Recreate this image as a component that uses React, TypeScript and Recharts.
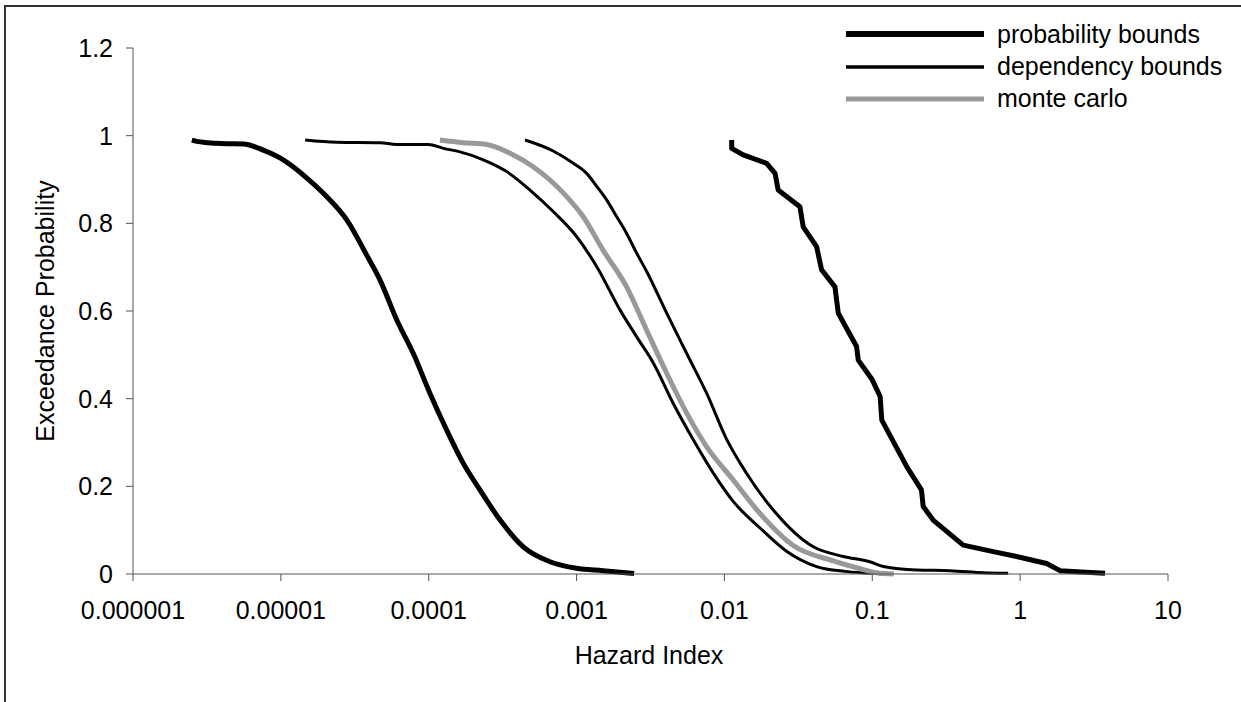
import React from "react";
import { LineChart, Line, XAxis, YAxis, Legend } from "recharts";

// hazard index (x) vs exceedance probability (y)
const probLeft: [number, number][] = [
  [2.5e-6, 0.99], [2.7e-6, 0.987], [3.2e-6, 0.984], [4.0e-6, 0.982], [5.6e-6, 0.981],
  [7.6e-6, 0.967], [1.0e-5, 0.948], [1.21e-5, 0.929], [1.5e-5, 0.903], [2.04e-5, 0.861],
  [2.79e-5, 0.808], [3.8e-5, 0.728], [4.68e-5, 0.671], [6.07e-5, 0.58], [7.87e-5, 0.503],
  [1.02e-4, 0.412], [1.32e-4, 0.329], [1.71e-4, 0.253], [2.22e-4, 0.192], [3.04e-4, 0.123],
  [4.36e-4, 0.062], [6.61e-4, 0.028], [1.0e-3, 0.013], [1.51e-3, 0.0076], [2.45e-3, 0.001],
];

const depLeft: [number, number][] = [
  [1.46e-5, 0.99], [2.39e-5, 0.985], [4.68e-5, 0.984], [6.07e-5, 0.98], [9.94e-5, 0.98],
  [1.26e-4, 0.971], [1.63e-4, 0.963], [2.34e-4, 0.945], [3.37e-4, 0.918], [4.84e-4, 0.876],
  [6.95e-4, 0.827], [1.0e-3, 0.77], [1.37e-3, 0.701], [1.97e-3, 0.602], [2.55e-3, 0.541],
  [3.31e-3, 0.481], [4.51e-3, 0.389], [6.16e-3, 0.306], [8.41e-3, 0.23], [1.15e-2, 0.165],
  [1.74e-2, 0.105], [2.63e-2, 0.052], [4.2e-2, 0.017], [6.5e-2, 0.006], [9.5e-2, 0.002],
  [0.12, 0],
];

const monteCarlo: [number, number][] = [
  [1.19e-4, 0.99], [1.71e-4, 0.984], [2.47e-4, 0.98], [3.55e-4, 0.96], [5.09e-4, 0.929],
  [8.3e-4, 0.866], [1.11e-3, 0.815], [1.51e-3, 0.739], [2.18e-3, 0.655], [2.98e-3, 0.556],
  [4.07e-3, 0.458], [5.56e-3, 0.367], [7.59e-3, 0.29], [1.15e-2, 0.214], [1.74e-2, 0.138],
  [2.92e-2, 0.065], [5.44e-2, 0.03], [8.3e-2, 0.012], [0.107, 0.003], [0.14, 0],
];

const depRight: [number, number][] = [
  [4.48e-4, 0.99], [6.95e-4, 0.965], [9.5e-4, 0.937], [1.17e-3, 0.914], [1.37e-3, 0.884],
  [1.6e-3, 0.853], [1.87e-3, 0.815], [2.18e-3, 0.777], [2.55e-3, 0.732], [2.98e-3, 0.69],
  [4.07e-3, 0.595], [5.56e-3, 0.503], [7.59e-3, 0.412], [1.04e-2, 0.306], [1.41e-2, 0.23],
  [2.14e-2, 0.146], [3.99e-2, 0.062], [6.37e-2, 0.04], [9.6e-2, 0.028], [0.119, 0.017],
  [0.2, 0.009], [0.336, 0.0076], [0.563, 0.003], [0.83, 0.0015],
];

const probRight: [number, number][] = [
  [1.12e-2, 0.99], [1.12e-2, 0.971], [1.34e-2, 0.956], [1.93e-2, 0.937], [2.2e-2, 0.914],
  [2.31e-2, 0.876], [3.24e-2, 0.838], [3.41e-2, 0.792], [4.2e-2, 0.747], [4.54e-2, 0.694],
  [5.59e-2, 0.655], [5.89e-2, 0.595], [7.83e-2, 0.519], [8.04e-2, 0.488], [0.1, 0.443],
  [0.113, 0.405], [0.116, 0.351], [0.171, 0.245], [0.215, 0.192], [0.221, 0.154],
  [0.258, 0.123], [0.412, 0.066], [0.658, 0.051], [0.946, 0.04], [1.51, 0.024],
  [1.86, 0.0076], [2.41, 0.005], [3.75, 0.0015],
];

const xTicks = [0.000001, 0.00001, 0.0001, 0.001, 0.01, 0.1, 1, 10];
const yTicks = [0, 0.2, 0.4, 0.6, 0.8, 1, 1.2];

const legendItems = [
  { name: "probability bounds", color: "#000", width: 6 },
  { name: "dependency bounds", color: "#000", width: 3.5 },
  { name: "monte carlo", color: "#999", width: 5 },
];

const toPoints = (arr: [number, number][]) => arr.map(([x, y]) => ({ x, y }));

const FONT = '"Liberation Sans", Arial, sans-serif';
const TICK_FONT = 25;

function XTick(props: any) {
  const { x, y, payload } = props;
  return (
    <text x={x} y={y} dy="0.71em" textAnchor="middle" style={{ fontSize: TICK_FONT }} fill="#000">
      {String(payload.value)}
    </text>
  );
}

function YTick(props: any) {
  const { x, y, payload } = props;
  return (
    <text x={x} y={y} dy="0.36em" textAnchor="end" style={{ fontSize: TICK_FONT }} fill="#000">
      {String(payload.value)}
    </text>
  );
}

function LegendBox() {
  return (
    <div style={{ fontFamily: FONT }}>
      {legendItems.map((it) => (
        <div
          key={it.name}
          style={{ display: "flex", alignItems: "center", height: 32.4 }}
        >
          <svg width={138} height={10} style={{ marginRight: 13 }}>
            <line x1={0} y1={5} x2={138} y2={5} stroke={it.color} strokeWidth={it.width} />
          </svg>
          <span style={{ fontSize: 25, color: "#000", whiteSpace: "nowrap" }}>{it.name}</span>
        </div>
      ))}
    </div>
  );
}

const XTitle = () => (
  <text x={649} y={655} textAnchor="middle" dominantBaseline="central" fontSize={25} fill="#000">
    Hazard Index
  </text>
);

const YTitle = () => (
  <text
    x={45}
    y={311}
    transform="rotate(-90 45 311)"
    textAnchor="middle"
    dominantBaseline="central"
    fontSize={25}
    fill="#000"
  >
    Exceedance Probability
  </text>
);

export default function App() {
  return (
    <div
      style={{
        position: "absolute",
        left: 0,
        top: 0,
        width: 1241,
        height: 702,
        overflow: "hidden",
        background: "#fff",
        fontFamily: FONT,
      }}
    >
      <div
        style={{
          position: "absolute",
          left: 4,
          top: 5,
          width: 1300,
          height: 800,
          border: "2px solid #333",
        }}
      />
      <LineChart
        width={1241}
        height={702}
        margin={{ top: 48, right: 73, bottom: 0, left: 0 }}
      >
        <XAxis
          dataKey="x"
          type="number"
          scale="log"
          domain={[0.000001, 10]}
          ticks={xTicks}
          height={128}
          stroke="#555"
          tickSize={7}
          tickMargin={20}
          tick={<XTick />}
          label={<XTitle />}
          allowDataOverflow
        />
        <YAxis
          dataKey="y"
          type="number"
          domain={[0, 1.2]}
          ticks={yTicks}
          width={133}
          stroke="#555"
          tickSize={7}
          tickMargin={13}
          tick={<YTick />}
          label={<YTitle />}
        />
        <Legend
          layout="horizontal"
          verticalAlign="middle"
          align="center"
          wrapperStyle={{ top: 18, left: 846, width: 380 }}
          content={() => <LegendBox />}
        />
        <Line data={toPoints(depLeft)} dataKey="y" type="monotone" stroke="#000" strokeWidth={3} dot={false} isAnimationActive={false} legendType="none" />
        <Line data={toPoints(depRight)} dataKey="y" type="monotone" stroke="#000" strokeWidth={3} dot={false} isAnimationActive={false} legendType="none" />
        <Line data={toPoints(monteCarlo)} dataKey="y" type="monotone" stroke="#999" strokeWidth={5} dot={false} isAnimationActive={false} legendType="none" />
        <Line data={toPoints(probLeft)} dataKey="y" type="monotone" stroke="#000" strokeWidth={5} dot={false} isAnimationActive={false} legendType="none" />
        <Line data={toPoints(probRight)} dataKey="y" stroke="#000" strokeWidth={5} strokeLinejoin="round" dot={false} isAnimationActive={false} legendType="none" />
      </LineChart>
    </div>
  );
}
